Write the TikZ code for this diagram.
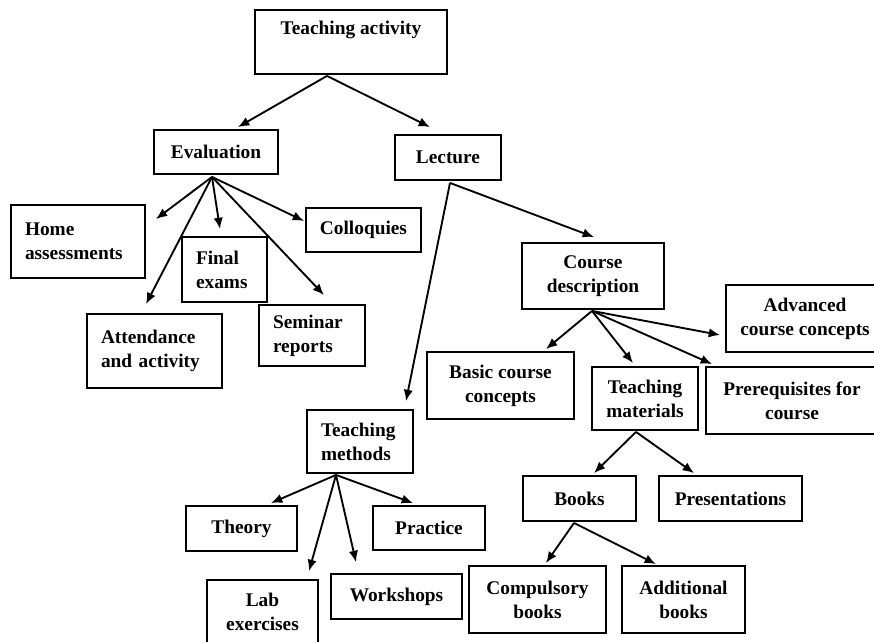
\documentclass[tikz,border=0pt]{standalone}
\usepackage{fontspec}
\setmainfont{Liberation Serif}
\usetikzlibrary{arrows.meta,calc}

\begin{document}
\begin{tikzpicture}[
    x=0.75pt, y=-0.75pt,
    box/.style={
        rectangle,
        draw=black,
        line width=1.4pt,
        align=center,
        inner sep=0pt,
        font=\bfseries\fontsize{14.5}{18}\selectfont
    },
    sz/.style 2 args={
        minimum width=#1*0.75pt,
        minimum height=#2*0.75pt
    },
    lbox/.style={
        box,
        align=left,
        inner xsep=10.5pt,
        text width=#1*0.75pt-21pt
    },
    line/.style={draw, line width=1.4pt, -{Latex[length=8.5pt,width=7pt]}}
]

\useasboundingbox (0,0) rectangle (874,642);

% Root
\node [box, sz={192}{64}, text height=18.75pt, text depth=29.25pt] (act) at (351,42) {Teaching activity};

% Evaluation branch
\node [box, sz={124}{44}] (eval) at (216,152) {Evaluation};
\node [lbox=134, sz={134}{73}] (home) at (78,241.5) {Home\\assessments};
\node [lbox=85, sz={85}{65}] (final) at (224.5,269.5) {Final\\exams};
\node [box, sz={115}{44}] (coll) at (363.5,230) {Colloquies};
\node [lbox=135, sz={135}{74}] (att) at (154.5,351) {Attendance\\and activity};
\node [lbox=106, sz={106}{61}] (sem) at (312,335.5) {Seminar\\reports};

% Lecture branch
\node [box, sz={106}{45}] (lect) at (448,157.5) {Lecture};
\node [lbox=106, sz={106}{63}] (tmeth) at (360,441.5) {Teaching\\methods};
\node [box, sz={111}{45}] (theory) at (241.5,528.5) {Theory};
\node [box, sz={112}{44}] (pract) at (429,528) {Practice};
\node [box, sz={111}{64}] (lab) at (262.5,612) {Lab\\exercises};
\node [box, sz={131}{45}] (work) at (396.5,596.5) {Workshops};

\node [box, sz={142}{66}] (cdesc) at (593,276) {Course\\description};
\node [box, sz={158}{67}] (adv) at (805,318.5) {Advanced\\course concepts};
\node [box, sz={147}{67}] (basic) at (500.5,385.5) {Basic course\\concepts};
\node [box, sz={106}{63}] (tmat) at (645,398.5) {Teaching\\materials};
\node [box, sz={172}{67}] (prereq) at (792,400.5) {Prerequisites for\\course};
\node [box, sz={113}{45}] (books) at (579.5,498.5) {Books};
\node [box, sz={143}{45}] (pres) at (730.5,498.5) {Presentations};
\node [box, sz={137}{67}] (comp) at (537.5,599.5) {Compulsory\\books};
\node [box, sz={123}{67}] (addl) at (683.5,599.5) {Additional\\books};

% Connections from the root
\draw [line] ($(act.south)+(-24,1)$) -- ($(eval.north)+(22,-2)$);
\draw [line] ($(act.south)+(-24,1)$) -- ($(lect.north)+(-18,-7)$);

% Evaluation
\draw [line] ($(eval.south)+(-4,2)$) -- ($(home.north east)+(10,15)$);
\draw [line] ($(eval.south)+(-4,2)$) -- ($(att.north)+(-8.5,-9)$);
\draw [line] ($(eval.south)+(-4,2)$) -- ($(final.north)+(-4.5,-7)$);
\draw [line] ($(eval.south)+(-4,2)$) -- ($(sem.north)+(12,-9)$);
\draw [line] ($(eval.south)+(-4,2)$) -- ($(coll.west)+(-1,-9)$);

% Lecture
\draw [line] ($(lect.south)+(2,2)$) -- ($(tmeth.north)+(46,-8)$);
\draw [line] ($(lect.south)+(2,2)$) -- ($(cdesc.north)+(1,-5)$);

% Course description
\draw [line] ($(cdesc.south)+(-1,1)$) -- ($(basic.north)+(45.5,-2)$);
\draw [line] ($(cdesc.south)+(-1,1)$) -- ($(tmat.north)+(-12,-3)$);
\draw [line] ($(cdesc.south)+(-1,1)$) -- ($(prereq.north west)+(7,-2)$);
\draw [line] ($(cdesc.south)+(-1,1)$) -- ($(adv.west)+(-5,16.5)$);

% Teaching materials and books
\draw [line] ($(tmat.south)+(-9,1)$) -- ($(books.north)+(14.5,-2)$);
\draw [line] ($(tmat.south)+(-9,1)$) -- ($(pres.north)+(-36.5,-2)$);
\draw [line] ($(books.south)+(-5.5,1)$) -- ($(comp.north)+(8.5,-2)$);
\draw [line] ($(books.south)+(-5.5,1)$) -- ($(addl.north)+(-27.5,-1)$);

% Teaching methods
\draw [line] ($(tmeth.south)+(-24,1)$) -- ($(theory.north)+(29.5,-2)$);
\draw [line] ($(tmeth.south)+(-24,1)$) -- ($(lab.north)+(46.5,-8)$);
\draw [line] ($(tmeth.south)+(-24,1)$) -- ($(work.north)+(-40.5,-11)$);
\draw [line] ($(tmeth.south)+(-24,1)$) -- ($(pract.north)+(-16,-2)$);

\end{tikzpicture}
\end{document}
